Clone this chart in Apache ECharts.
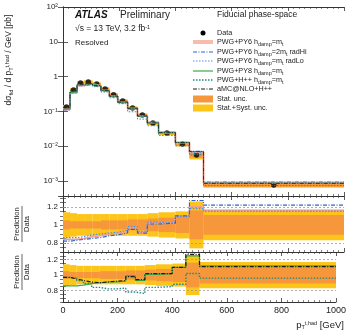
<!DOCTYPE html>
<html>
<head>
<meta charset="utf-8">
<script src="https://cdn.jsdelivr.net/npm/echarts@6/dist/echarts.min.js"></script>
<style>
  html, body { margin: 0; padding: 0; background: #fff; }
  #chart { width: 349px; height: 336px; }
</style>
</head>
<body>
<div id="chart"></div>
<script>
// bin edges of pT(t,had) in GeV
const binEdges = [0, 25, 50, 75, 105, 135, 165, 195, 230, 265, 300, 340, 400, 450, 500, 1000];
// measured fiducial cross section per GeV [pb]
const dataXsec = [0.134, 0.41, 0.65, 0.70, 0.61, 0.44, 0.30, 0.20, 0.125, 0.079, 0.046, 0.024, 0.0116, 0.0056, 0.00077];
// prediction / data ratios
const ratioPy6 = [0.84, 0.84, 0.85, 0.87, 0.88, 0.90, 0.91, 0.92, 0.97, 0.92, 1.02, 1.02, 1.10, 1.20, 1.16];
const ratioRadHi = [0.82, 0.83, 0.84, 0.85, 0.86, 0.88, 0.89, 0.91, 0.95, 0.91, 1.01, 1.02, 1.10, 1.27, 1.22];
const ratioRadLo = [0.86, 0.86, 0.87, 0.89, 0.90, 0.91, 0.92, 0.94, 0.98, 0.93, 1.03, 1.02, 1.09, 1.18, 1.15];
const ratioPy8 = [0.86, 0.86, 0.87, 0.89, 0.90, 0.91, 0.91, 0.92, 0.99, 0.93, 1.01, 1.02, 1.10, 1.25, 1.12];
const ratioHpp = [0.97, 0.96, 0.93, 0.89, 0.84, 0.82, 0.82, 0.83, 0.78, 0.76, 0.84, 0.85, 0.88, 1.02, 0.96];
const ratioAmc = [0.97, 0.95, 0.93, 0.91, 0.90, 0.91, 0.92, 0.93, 0.98, 0.94, 1.02, 1.02, 1.10, 1.27, 1.11];
// relative uncertainties
const statUnc = [0.05, 0.04, 0.04, 0.04, 0.04, 0.05, 0.05, 0.05, 0.06, 0.06, 0.07, 0.08, 0.09, 0.16, 0.11];
const totUnc = [0.14, 0.13, 0.12, 0.12, 0.12, 0.12, 0.12, 0.12, 0.12, 0.12, 0.13, 0.14, 0.15, 0.26, 0.17];

const C = {
  py6: '#f3a08f', radHi: '#2f63d6', radLo: '#4d90f0', py8: '#3aa845',
  hpp: '#1c8c86', amc: '#1a1a1a', stat: '#f5973a', tot: '#fdc41a'
};
const FONT = 'Liberation Sans, Arial, sans-serif';

const chart = echarts.init(document.getElementById('chart'));

function steps(vals) {
  const out = vals.map((v, i) => [binEdges[i], v]);
  out.push([binEdges[binEdges.length - 1], vals[vals.length - 1]]);
  return out;
}
function bandRows(unc, base) {
  return unc.map((u, i) => {
    const b = base ? base[i] : 1;
    return [binEdges[i], binEdges[i + 1], b * (1 - u), b * (1 + u)];
  });
}
function bandSeries(unc, base, color, xi, yi) {
  return {
    type: 'custom', xAxisIndex: xi, yAxisIndex: yi, clip: true, silent: true,
    data: bandRows(unc, base),
    renderItem: function (params, api) {
      const p0 = api.coord([api.value(0), api.value(3)]);
      const p1 = api.coord([api.value(1), api.value(2)]);
      return { type: 'rect', shape: { x: p0[0], y: p0[1], width: p1[0] - p0[0], height: p1[1] - p0[1] },
        style: { fill: color } };
    }
  };
}
function stepLine(vals, color, type, width, xi, yi, extra) {
  return Object.assign({
    type: 'line', step: 'end', xAxisIndex: xi, yAxisIndex: yi, data: steps(vals),
    symbol: 'none', silent: true, clip: true,
    lineStyle: { color: color, type: type, width: width }
  }, extra || {});
}
const guides = {
  silent: true, symbol: 'none', label: { show: false },
  lineStyle: { color: '#9a9a9a', type: [2, 2], width: 0.8 },
  data: [{ yAxis: 0.8 }, { yAxis: 1.2 }]
};

const supMap = { '-': '⁻', '0': '⁰', '1': '¹', '2': '²', '3': '³', '4': '⁴', '5': '⁵' };
function logLabel(v) {
  const e = Math.log10(v);
  if (Math.abs(e - Math.round(e)) > 1e-6) return '';
  const n = Math.round(e);
  if (n === 0) return '1';
  if (n === 1) return '10';
  return '10' + String(n).split('').map(c => supMap[c]).join('');
}
function ratioLabel(v) {
  if (Math.abs(v - 0.8) < 1e-6) return '0.8';
  if (Math.abs(v - 1) < 1e-6) return '1';
  if (Math.abs(v - 1.2) < 1e-6) return '1.2';
  return '';
}

const axisLine = { lineStyle: { color: '#333', width: 1 } };
const tickIn = { inside: true, length: 4, lineStyle: { color: '#333', width: 0.8 } };
const minorIn = { show: true, splitNumber: 10, length: 2, lineStyle: { color: '#333', width: 0.6 } };

function xAx(grid, pos, labels) {
  return {
    type: 'value', gridIndex: grid, position: pos, min: 0, max: 1000, interval: 200,
    axisLine: axisLine, axisTick: tickIn, minorTick: minorIn, splitLine: { show: false },
    axisLabel: { show: labels, formatter: v => String(v), color: '#222', fontSize: 9, fontFamily: FONT, margin: 4 }
  };
}
function yRatio(grid, pos, min, max, labels) {
  return {
    type: 'value', gridIndex: grid, position: pos, min: min, max: max, interval: 0.05,
    axisLine: axisLine, axisTick: { inside: true, length: 3, lineStyle: { color: '#333', width: 0.7 } },
    splitLine: { show: false },
    axisLabel: { show: labels, formatter: ratioLabel, showMinLabel: false, showMaxLabel: false,
      color: '#222', fontSize: 8, fontFamily: FONT, margin: 5 }
  };
}
function yLog(pos, labels) {
  return {
    type: 'log', gridIndex: 0, position: pos, logBase: 10, min: 0.00037, max: 100, splitNumber: 6,
    axisLine: axisLine, axisTick: { inside: true, length: 5, lineStyle: { color: '#333', width: 0.8 } },
    splitLine: { show: false },
    axisLabel: { show: labels, formatter: logLabel, showMinLabel: false,
      color: '#222', fontSize: 8, fontFamily: FONT, margin: 5 }
  };
}

const centers = dataXsec.map((v, i) => [(binEdges[i] + binEdges[i + 1]) / 2, v]);
const pred = r => dataXsec.map((v, i) => v * r[i]);

const rich = {
  sub: { fontSize: 5.5, fontFamily: FONT, color: '#222', verticalAlign: 'bottom', padding: [4, 0, 0, 0] },
  sup: { fontSize: 5.5, fontFamily: FONT, color: '#222', verticalAlign: 'top', padding: [0, 0, 4, 0] }
};
function txt(x, y, text, size, extra) {
  return Object.assign({
    type: 'text', x: x, y: y, silent: true,
    style: { text: text, fontSize: size, fontFamily: FONT, fill: '#222', verticalAlign: 'middle', rich: rich }
  }, extra || {});
}

const legRows = [
  { y: 33, label: 'Data', kind: 'dot' },
  { y: 42, label: 'PWG+PY6 h{sub|damp}=m{sub|t}', kind: 'line', color: '#f8bcad', type: 'solid', w: 4 },
  { y: 52, label: 'PWG+PY6 h{sub|damp}=2m{sub|t} radHi', kind: 'line', color: C.radHi, type: [4, 1.5, 1, 1.5], w: 1.2 },
  { y: 61, label: 'PWG+PY6 h{sub|damp}=m{sub|t} radLo', kind: 'line', color: C.radLo, type: [1.5, 1.5], w: 1.2 },
  { y: 71, label: 'PWG+PY8 h{sub|damp}=m{sub|t}', kind: 'line', color: C.py8, type: 'solid', w: 1.2 },
  { y: 80, label: 'PWG+H++ h{sub|damp}=m{sub|t}', kind: 'line', color: C.hpp, type: [1.5, 1.5], w: 1.4 },
  { y: 89, label: 'aMC@NLO+H++', kind: 'line', color: C.amc, type: [4, 1.5, 1, 1.5], w: 1.2 },
  { y: 99, label: 'Stat. unc.', kind: 'box', color: C.stat },
  { y: 108, label: 'Stat.+Syst. unc.', kind: 'box', color: C.tot }
];
const legend = [];
legRows.forEach(r => {
  if (r.kind === 'dot') {
    legend.push({ type: 'circle', shape: { cx: 203, cy: r.y, r: 2.5 }, style: { fill: '#000' }, silent: true });
  } else if (r.kind === 'line') {
    legend.push({ type: 'line', shape: { x1: 193, y1: r.y, x2: 213, y2: r.y }, silent: true,
      style: { stroke: r.color, lineWidth: r.w, lineDash: r.type === 'solid' ? null : r.type } });
  } else {
    legend.push({ type: 'rect', shape: { x: 193, y: r.y - 3.5, width: 20, height: 7 }, style: { fill: r.color }, silent: true });
  }
  legend.push(txt(217, r.y, r.label, 7.2));
});

function ratioTitle(cy) {
  return { type: 'group', x: 22, y: cy, rotation: Math.PI / 2, silent: true, children: [
    { type: 'text', x: 0, y: -5, style: { text: 'Prediction', fontSize: 7.5, fontFamily: FONT, fill: '#222', align: 'center', verticalAlign: 'middle' } },
    { type: 'line', shape: { x1: -18, y1: 0, x2: 18, y2: 0 }, style: { stroke: '#222', lineWidth: 0.7 } },
    { type: 'text', x: 0, y: 5, style: { text: 'Data', fontSize: 7.5, fontFamily: FONT, fill: '#222', align: 'center', verticalAlign: 'middle' } }
  ] };
}

const option = {
  animation: false,
  backgroundColor: '#fff',
  grid: [
    { left: 63, right: 5, top: 7, height: 189 },
    { left: 63, right: 5, top: 196, height: 56 },
    { left: 63, right: 5, top: 252, height: 50 }
  ],
  xAxis: [xAx(0, 'bottom', false), xAx(0, 'top', false), xAx(1, 'bottom', false), xAx(1, 'top', false),
    xAx(2, 'bottom', true), xAx(2, 'top', false)],
  yAxis: [yLog('left', true), yLog('right', false),
    yRatio(1, 'left', 0.7, 1.32, true), yRatio(1, 'right', 0.7, 1.32, false),
    yRatio(2, 'left', 0.65, 1.3, true), yRatio(2, 'right', 0.65, 1.3, false)],
  series: [
    // main panel
    bandSeries(totUnc, dataXsec, C.tot, 0, 0),
    bandSeries(statUnc, dataXsec, C.stat, 0, 0),
    stepLine(pred(ratioPy6), C.py6, 'solid', 2, 0, 0),
    stepLine(pred(ratioRadHi), C.radHi, [4, 1.5, 1, 1.5], 0.8, 0, 0),
    stepLine(pred(ratioRadLo), C.radLo, [1.5, 1.5], 0.8, 0, 0),
    stepLine(pred(ratioPy8), C.py8, 'solid', 0.8, 0, 0),
    stepLine(pred(ratioHpp), C.hpp, [1.5, 1.5], 0.9, 0, 0),
    stepLine(pred(ratioAmc), C.amc, [4, 1.5, 1, 1.5], 0.8, 0, 0),
    { type: 'scatter', xAxisIndex: 0, yAxisIndex: 0, data: centers, symbolSize: 5.5, silent: true,
      itemStyle: { color: '#000' } },
    // ratio panel: PWG+PY6 variations
    bandSeries(totUnc, null, C.tot, 2, 2),
    bandSeries(statUnc, null, C.stat, 2, 2),
    stepLine(ratioPy6, C.py6, 'solid', 1.6, 2, 2, { markLine: guides }),
    stepLine(ratioRadLo, C.radLo, [1.5, 1.5], 1.2, 2, 2),
    stepLine(ratioRadHi, C.radHi, [4, 1.5, 1, 1.5], 1.2, 2, 2),
    // ratio panel: other generators
    bandSeries(totUnc, null, C.tot, 4, 4),
    bandSeries(statUnc, null, C.stat, 4, 4),
    stepLine(ratioPy8, C.py8, 'solid', 1.2, 4, 4, { markLine: guides }),
    stepLine(ratioHpp, C.hpp, [1.5, 1.5], 1.4, 4, 4),
    stepLine(ratioAmc, C.amc, [4, 1.5, 1, 1.5], 1.2, 4, 4)
  ],
  graphic: [
    txt(75, 15, 'ATLAS', 10, { style: { text: 'ATLAS', fontSize: 10, fontFamily: FONT, fontWeight: 'bold', fontStyle: 'italic', fill: '#111', verticalAlign: 'middle' } }),
    txt(120, 15, 'Preliminary', 10),
    txt(75, 29, '√s = 13 TeV, 3.2 fb{sup|-1}', 8.5),
    txt(75, 43, 'Resolved', 8),
    txt(217, 15, 'Fiducial phase-space', 8.5),
    txt(9, 60, '', 8.5, { rotation: Math.PI / 2, style: { text: 'dσ{sub|fid} / d p{sub|T}{sup|t,had} / GeV [pb]', fontSize: 8.5, fontFamily: FONT, fill: '#222', align: 'center', verticalAlign: 'middle', rich: rich } }),
    txt(344, 325, '', 9.5, { style: { text: 'p{sub|T}{sup|t,had} [GeV]', fontSize: 9.5, fontFamily: FONT, fill: '#222', align: 'right', verticalAlign: 'middle', rich: rich } }),
    ratioTitle(224),
    ratioTitle(272)
  ].concat(legend)
};

chart.setOption(option);
</script>
</body>
</html>
